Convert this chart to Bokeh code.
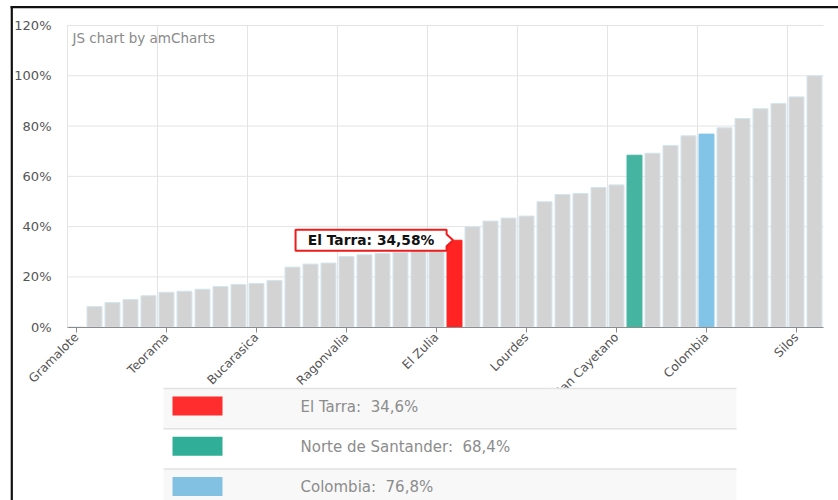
import math
from bokeh.plotting import figure
from bokeh.models import Range1d, LinearAxis, FixedTicker, PrintfTickFormatter, ColumnDataSource
from bokeh.core.properties import value
from bokeh.embed import file_html
from bokeh.resources import INLINE

# ---------------- data ----------------
values = [0.0, 8.2, 9.8, 11.0, 12.5, 13.9, 14.3, 15.1, 16.2, 17.0,
          17.4, 18.6, 23.9, 25.1, 25.5, 28.1, 28.8, 29.3, 29.8, 30.3,
          31.0, 34.58, 40.0, 42.2, 43.4, 44.2, 49.9, 52.8, 53.2, 55.6,
          56.6, 68.4, 69.2, 72.3, 76.1, 76.8, 79.3, 83.0, 86.9, 89.0,
          91.6, 100.0]
tick_positions = [0, 5, 10, 15, 20, 25, 30, 35, 40]
tick_labels = ["Gramalote", "Teorama", "Bucarasica", "Ragonvalia", "El Zulia",
               "Lourdes", "San Cayetano", "Colombia", "Silos"]
y_ticks = [0, 20, 40, 60, 80, 100, 120]

highlight_names = ["El Tarra", "Norte de Santander", "Colombia"]
highlight_index = [21, 31, 35]
highlight_bar_colors = ["#ff2323", "#45b4a0", "#82c4e8"]
legend_colors = ["#ff2d2d", "#31ae97", "#83c1e2"]
tooltip_item = 0  # El Tarra

# ---------------- layout constants (figure pixels) ----------------
W, H = 838, 500
PL, PR = 67, 823          # plot area left / right
PT, P0 = 25, 326.7        # y of top (120 %) and of 0 %
n = len(values)
pitch = (PR - PL) / n
ymax = y_ticks[-1]
pxpp = (P0 - PT) / ymax

p = figure(width=W, height=H,
           x_range=Range1d(-0.5 - PL / pitch, -0.5 + (W - PL) / pitch),
           y_range=Range1d(-(H - P0) / pxpp, ymax + PT / pxpp),
           x_axis_type=None, y_axis_type=None, title=None,
           toolbar_location=None, output_backend="svg", min_border=0)
p.outline_line_color = None
p.background_fill_color = "white"
p.border_fill_color = "white"
p.xgrid.visible = False
p.ygrid.visible = False
p.extra_x_ranges = {"px": Range1d(0, W)}
p.extra_y_ranges = {"py": Range1d(H, 0)}

# grid
gy = y_ticks[1:]
p.segment(x0=[-0.5] * len(gy), x1=[n - 0.5] * len(gy), y0=gy, y1=gy,
          line_color="#e4e4e4", line_width=1)
gx = [t - 0.5 for t in tick_positions]
p.segment(x0=gx, x1=gx, y0=[0] * len(gx), y1=[ymax] * len(gx),
          line_color="#e4e4e4", line_width=1)

# bars
fills = ["#d3d3d3"] * n
lines = ["#d3e5ee"] * n
for idx, c in zip(highlight_index, highlight_bar_colors):
    fills[idx] = c
    lines[idx] = c
src = ColumnDataSource(dict(x=list(range(n)), top=values, fill=fills, line=lines))
p.vbar(x="x", top="top", bottom=0, width=0.83, fill_color="fill",
       line_color="line", line_width=1, source=src)

# axes
xaxis = LinearAxis(fixed_location=0, ticker=FixedTicker(ticks=tick_positions),
                   bounds=(-0.5, n - 0.5))
xaxis.major_label_overrides = {t: l for t, l in zip(tick_positions, tick_labels)}
xaxis.major_label_orientation = math.pi / 4
xaxis.axis_line_color = "#8c8c8c"
xaxis.major_tick_line_color = "#8c8c8c"
xaxis.major_tick_in = 0
xaxis.major_tick_out = 5
xaxis.minor_tick_line_color = None
xaxis.major_label_standoff = 3
xaxis.major_label_text_font = "DejaVu Sans"
xaxis.major_label_text_font_size = "12.2px"
xaxis.major_label_text_color = "#555555"
p.add_layout(xaxis, "below")

yaxis = LinearAxis(fixed_location=-0.5, ticker=FixedTicker(ticks=y_ticks),
                   formatter=PrintfTickFormatter(format="%d%%"))
yaxis.axis_line_color = None
yaxis.major_tick_line_color = None
yaxis.minor_tick_line_color = None
yaxis.major_tick_in = 0
yaxis.major_tick_out = 0
yaxis.major_label_standoff = 16
yaxis.major_label_text_font = "DejaVu Sans"
yaxis.major_label_text_font_size = "13px"
yaxis.major_label_text_color = "#555555"
p.add_layout(yaxis, "left")

# watermark
p.text(x=[PL + 5], y=[PT + 12], text=["JS chart by amCharts"],
       x_range_name="px", y_range_name="py",
       text_font=value("DejaVu Sans"), text_font_size="13.5px",
       text_color="#8a8a8a", text_baseline="middle", text_align="left")

# tooltip (balloon) for El Tarra
ti = highlight_index[tooltip_item]
tv = values[ti]
hh = 10.5 / pxpp
arr = 6 / pxpp
bl, br, tip = ti - 8.83, ti - 0.44, ti - 0.08
p.patch(x=[bl, br, br, tip, br, br, bl],
        y=[tv - hh, tv - hh, tv - arr, tv, tv + arr, tv + hh, tv + hh],
        fill_color="white", line_color="#ee1c1c", line_width=2, level="overlay")
label_txt = f"{highlight_names[tooltip_item]}: {tv:.2f}%".replace(".", ",")
p.text(x=[(bl + br) / 2], y=[tv], text=[label_txt],
       text_font=value("DejaVu Sans"), text_font_style="bold",
       text_font_size="13.8px", text_color="#111111",
       text_align="center", text_baseline="middle", level="overlay")

# legend table (figure pixels)
row_top0, row_h = 388, 40.2
tl, tr = 163, 736
tops = [row_top0 + i * row_h for i in range(len(highlight_names))]
bgs = ["#f8f8f8" if i % 2 == 0 else "#ffffff" for i in range(len(tops))]
p.quad(left=tl, right=tr, top=tops, bottom=[t + row_h for t in tops],
       fill_color=bgs, line_color=None, x_range_name="px", y_range_name="py",
       level="overlay")
p.segment(x0=[tl] * len(tops), x1=[tr] * len(tops), y0=tops, y1=tops,
          line_color="#e2e2e2", line_width=1.5, x_range_name="px",
          y_range_name="py", level="overlay")
p.quad(left=172, right=222, top=[t + 8 for t in tops], bottom=[t + 27 for t in tops],
       fill_color=legend_colors, line_color=None, x_range_name="px",
       y_range_name="py", level="overlay")
leg_txt = [f"{nm}:\u00a0 {values[i]:.1f}%".replace(".", ",")
           for nm, i in zip(highlight_names, highlight_index)]
p.text(x=[300] * len(tops), y=[t + 18.5 for t in tops], text=leg_txt,
       text_font=value("DejaVu Sans"), text_font_size="15px",
       text_color="#8c8c8c", text_baseline="middle", text_align="left",
       x_range_name="px", y_range_name="py", level="overlay")

# screenshot frame lines
p.segment(x0=[11.3, 10], x1=[11.3, W], y0=[6, 6.6], y1=[H, 6.6],
          line_color="#111111", line_width=2.2,
          x_range_name="px", y_range_name="py", level="overlay")

open("out.html", "w").write(file_html(p, INLINE))
